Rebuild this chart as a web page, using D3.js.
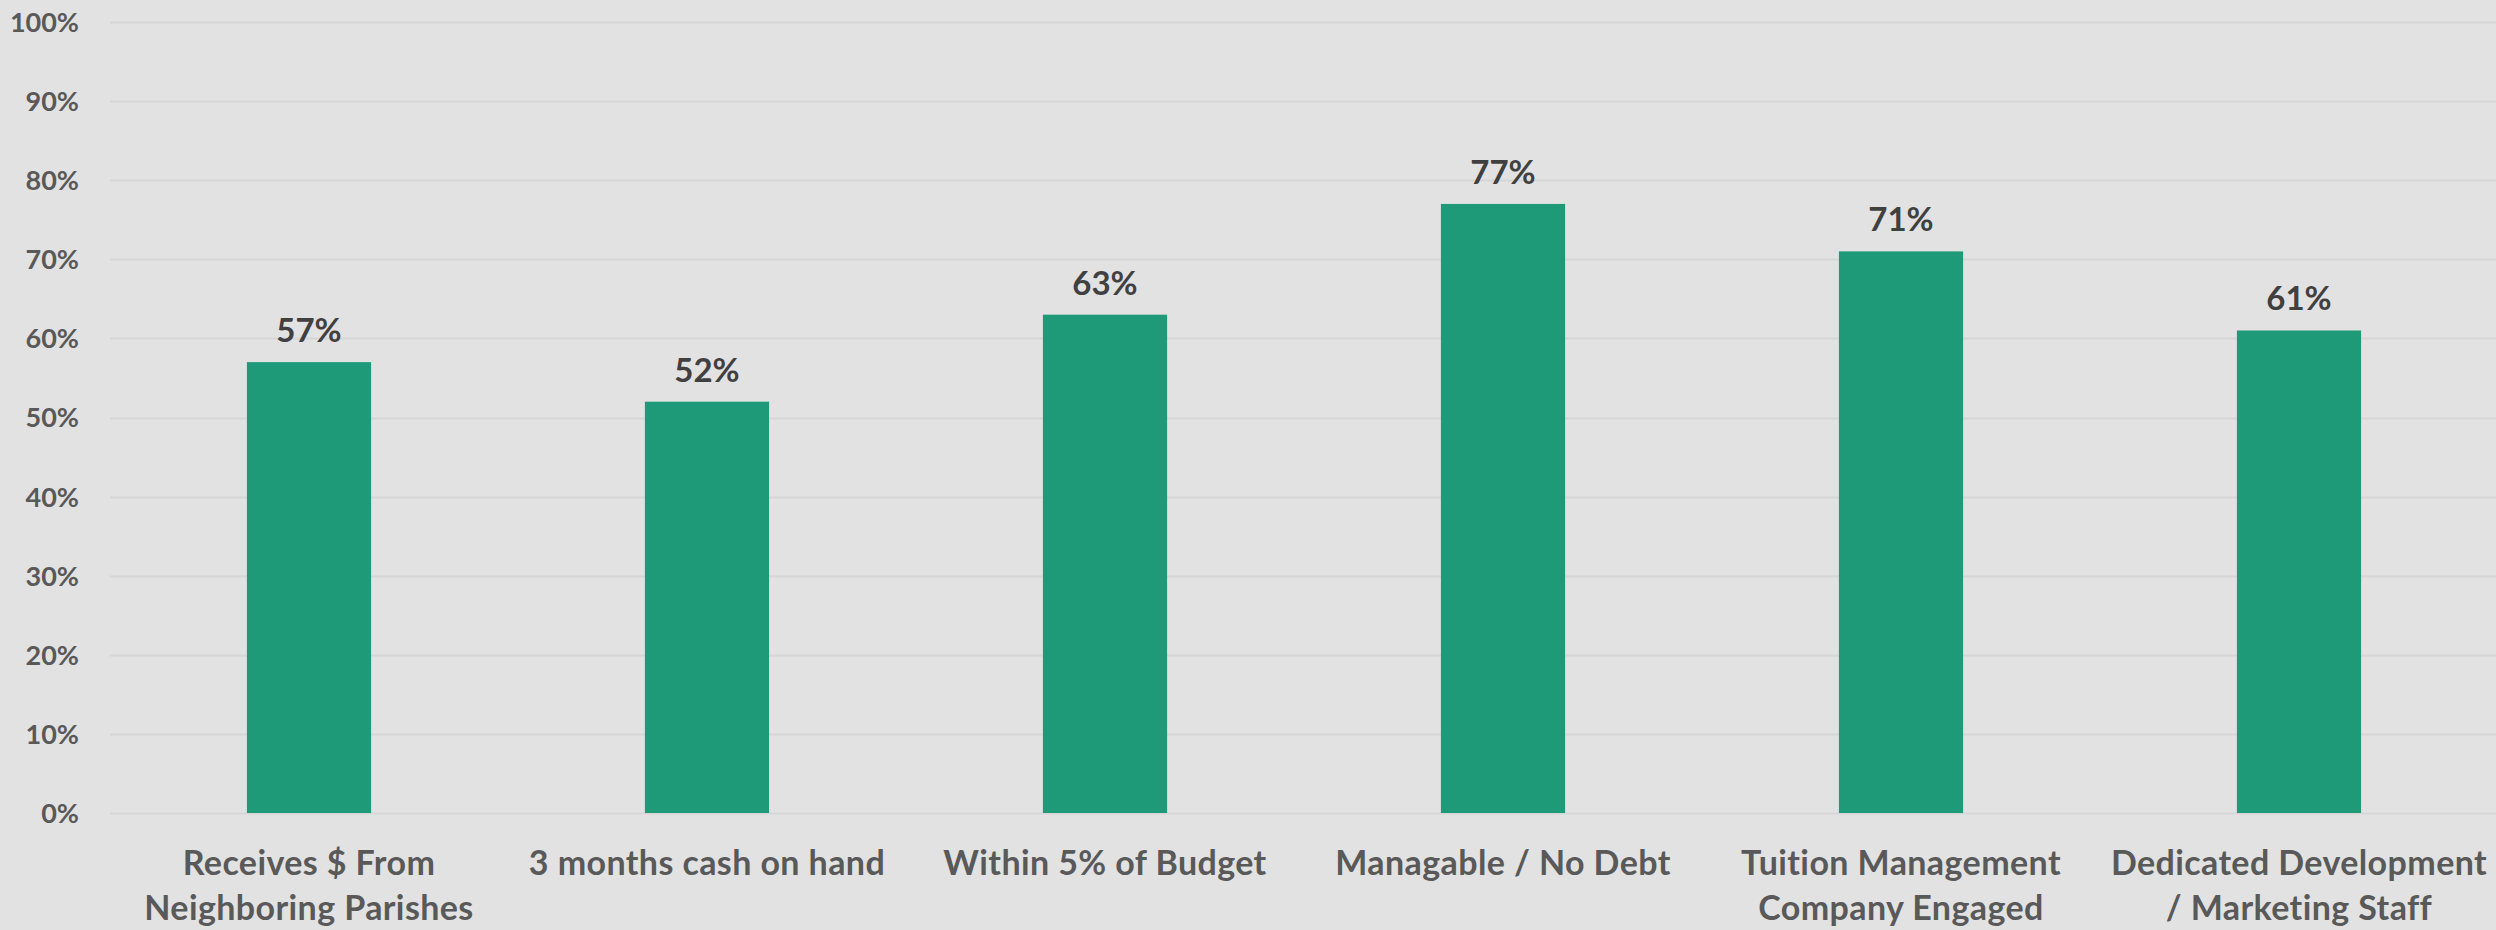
<!DOCTYPE html>
<html><head><meta charset="utf-8">
<script src="https://cdn.jsdelivr.net/npm/d3@7"></script>
<style>html,body{margin:0;padding:0;background:#e2e2e2;}svg{display:block;}</style>
</head><body>
<svg id="chart" width="2496" height="930"></svg>
<script>
const categories = [
  ["Receives $ From", "Neighboring Parishes"],
  ["3 months cash on hand"],
  ["Within 5% of Budget"],
  ["Managable / No Debt"],
  ["Tuition Management", "Company Engaged"],
  ["Dedicated Development", "/ Marketing Staff"]
];
const values = [0.57, 0.52, 0.63, 0.77, 0.71, 0.61];
const yTicks = [0, 0.1, 0.2, 0.3, 0.4, 0.5, 0.6, 0.7, 0.8, 0.9, 1.0];

const W = 2496, H = 930;
const m = {left: 110, right: -2, top: 22, bottom: 117};
const svg = d3.select("#chart");
svg.append("rect").attr("width", W).attr("height", H).attr("fill", "#e2e2e2");

const x = d3.scaleBand().domain(d3.range(values.length))
  .range([m.left, W - m.right]).paddingInner(0.688).paddingOuter(0.344);
const y = d3.scaleLinear().domain([0, 1]).range([H - m.bottom, m.top]);

// gridlines
svg.append("g").selectAll("line").data(yTicks).join("line")
  .attr("x1", m.left).attr("x2", W)
  .attr("y1", d => Math.round(y(d)) + 0.5).attr("y2", d => Math.round(y(d)) + 0.5)
  .attr("stroke", "#d6d6d6").attr("stroke-width", 2);

// y axis labels
const yAxis = d3.axisLeft(y).tickValues(yTicks).tickFormat(d3.format(".0%")).tickSize(0).tickPadding(0);
const ya = svg.append("g").attr("transform", `translate(79,0)`).call(yAxis);
ya.select(".domain").remove();
ya.selectAll("text").attr("font-family", "Lato, 'Open Sans', sans-serif")
  .attr("font-weight", "bold").attr("font-size", 27).attr("fill", "#595959").attr("dy", "0.35em");

// bars
svg.append("g").selectAll("rect").data(values).join("rect")
  .attr("x", (d, i) => x(i)).attr("width", x.bandwidth())
  .attr("y", d => y(d)).attr("height", d => y(0) - y(d))
  .attr("fill", "#1e9a78");

// value labels
svg.append("g").selectAll("text").data(values).join("text")
  .attr("x", (d, i) => x(i) + x.bandwidth() / 2).attr("y", d => y(d) - 20)
  .attr("text-anchor", "middle")
  .attr("font-family", "Lato, 'Open Sans', sans-serif").attr("font-weight", "bold")
  .attr("font-size", 33).attr("fill", "#404040")
  .text(d3.format(".0%"));

// category labels
const cg = svg.append("g").selectAll("text").data(categories).join("text")
  .attr("x", (d, i) => x(i) + x.bandwidth() / 2).attr("y", 875)
  .attr("text-anchor", "middle")
  .attr("font-family", "Lato, 'Open Sans', sans-serif").attr("font-weight", "bold")
  .attr("font-size", 34).attr("letter-spacing", 0.4).attr("fill", "#595959");
cg.selectAll("tspan").data(d => d).join("tspan")
  .attr("x", function() { return d3.select(this.parentNode).attr("x"); })
  .attr("dy", (d, i) => i === 0 ? 0 : 45)
  .text(d => d);
</script>
</body></html>
